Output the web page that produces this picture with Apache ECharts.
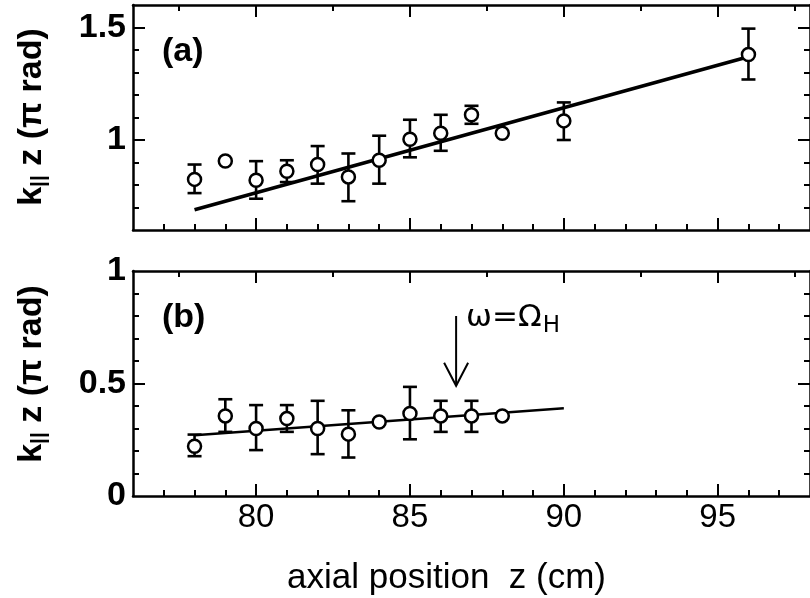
<!DOCTYPE html>
<html><head><meta charset="utf-8">
<script src="https://cdn.jsdelivr.net/npm/echarts@6/dist/echarts.min.js"></script>
<style>html,body{margin:0;padding:0;background:#fff}#c{width:810px;height:598px}</style>
</head><body><div id="c"></div>
<script>
// ---- Panel (a) data ----
const zA    = [78, 79, 80, 81, 82, 83, 84, 85, 86, 87, 88, 90, 96];
const kA    = [0.825, 0.907, 0.821, 0.861, 0.891, 0.836, 0.910, 1.003, 1.030, 1.112, 1.030, 1.085, 1.380];
const kAlo  = [0.764, null, 0.739, 0.813, 0.806, 0.728, 0.806, 0.923, 0.952, 1.072, null, 1.000, 1.269];
const kAhi  = [0.891, null, 0.906, 0.910, 0.973, 0.940, 1.019, 1.090, 1.112, 1.152, null, 1.167, 1.495];
const fitAz = [78, 96];
const fitAk = [0.69, 1.37];
// ---- Panel (b) data ----
const zB    = [78, 79, 80, 81, 82, 83, 84, 85, 86, 87, 88];
const kB    = [0.221, 0.356, 0.300, 0.344, 0.300, 0.275, 0.329, 0.367, 0.356, 0.356, 0.356];
const kBlo  = [0.177, 0.285, 0.204, 0.285, 0.186, 0.171, null, 0.252, 0.285, 0.285, null];
const kBhi  = [0.273, 0.430, 0.404, 0.404, 0.423, 0.381, null, 0.485, 0.423, 0.423, null];
const fitBz = [78, 90];
const fitBk = [0.27, 0.39];
// arrow marking omega = Omega_H
const arrowZ = [86.5];
const arrowFrom = [0.80];
const arrowTo = [0.49];
// ---- axes / ticks ----
const xRange = [76, 98];
const xTickLabels = [80, 85, 90, 95];
const xMinorBottom = [77, 78, 79, 81, 82, 83, 84, 86, 87, 88, 89, 91, 92, 93, 94, 96, 97];
const xMinorTop = [77.5, 82.5, 87.5, 92.5, 97.5];
const yRangeA = [0.6, 1.6];
const yLabelsA = [1, 1.5];
const yMinorA = [0.7, 0.8, 0.9, 1.1, 1.2, 1.3, 1.4];
const yRangeB = [0, 1];
const yLabelsB = [0, 0.5, 1];
const yMajorB = [0.5];
const yMinorB = [0.1, 0.2, 0.3, 0.4, 0.6, 0.7, 0.8, 0.9];

const chart = echarts.init(document.getElementById('c'), null, {renderer: 'canvas'});
const BLACK = '#000';
const FONT = 'Liberation Sans, Arial, Helvetica, sans-serif';

function axis(kind, grid, pos, range, ticks, len, opts) {
  opts = opts || {};
  return {
    type: 'value', gridIndex: grid, position: pos, min: range[0], max: range[1],
    axisLine: {show: !!opts.line, onZero: false, lineStyle: {color: BLACK, width: 2.5}},
    axisTick: {show: ticks.length > 0, inside: true, length: len, customValues: ticks,
               lineStyle: {color: BLACK, width: 2}},
    axisLabel: opts.labels ? {
      show: true, customValues: opts.labels, color: BLACK, fontFamily: FONT,
      fontSize: opts.fontSize, fontWeight: opts.fontWeight || 'normal', margin: opts.margin,
      formatter: v => String(Math.round(v * 10) / 10)
    } : {show: false},
    splitLine: {show: false}
  };
}

const gridA = {left: 133, top: 5, width: 679, height: 225};
const gridB = {left: 133, top: 271, width: 679, height: 225};

const xAxes = [
  axis('x', 0, 'bottom', xRange, xTickLabels, 12, {line: true}),
  axis('x', 0, 'top', xRange, xTickLabels, 12, {line: true}),
  axis('x', 1, 'bottom', xRange, xMinorBottom, 6),
  axis('x', 1, 'top', xRange, xMinorTop, 6),
  axis('x', 2, 'bottom', xRange, xTickLabels, 12, {line: true, labels: xTickLabels, fontSize: 33, margin: 5}),
  axis('x', 2, 'top', xRange, xTickLabels, 12, {line: true}),
  axis('x', 3, 'bottom', xRange, xMinorBottom, 6),
  axis('x', 3, 'top', xRange, xMinorTop, 6)
];
const yAxes = [
  axis('y', 0, 'left', yRangeA, yLabelsA, 12, {line: true, labels: yLabelsA, fontSize: 34, fontWeight: 'bold', margin: 7}),
  axis('y', 0, 'right', yRangeA, yLabelsA, 12, {line: true}),
  axis('y', 1, 'left', yRangeA, yMinorA, 6),
  axis('y', 1, 'right', yRangeA, yMinorA, 6),
  axis('y', 2, 'left', yRangeB, yMajorB, 12, {line: true, labels: yLabelsB, fontSize: 34, fontWeight: 'bold', margin: 7}),
  axis('y', 2, 'right', yRangeB, yMajorB, 12, {line: true}),
  axis('y', 3, 'left', yRangeB, yMinorB, 6),
  axis('y', 3, 'right', yRangeB, yMinorB, 6)
];

function errData(z, lo, hi) {
  const out = [];
  z.forEach((v, i) => { if (lo[i] != null && hi[i] != null) out.push([v, lo[i], hi[i]]); });
  return out;
}
function errSeries(xi, yi, data) {
  return {
    type: 'custom', xAxisIndex: xi, yAxisIndex: yi, z: 3, silent: true,
    encode: {x: 0, y: [1, 2]}, data: data,
    renderItem: function (params, api) {
      const x = api.value(0);
      const p1 = api.coord([x, api.value(1)]);
      const p2 = api.coord([x, api.value(2)]);
      const cw = 7;
      const st = {stroke: BLACK, lineWidth: 2.6};
      return {type: 'group', children: [
        {type: 'line', shape: {x1: p1[0], y1: p1[1], x2: p2[0], y2: p2[1]}, style: st},
        {type: 'line', shape: {x1: p1[0] - cw, y1: p1[1], x2: p1[0] + cw, y2: p1[1]}, style: st},
        {type: 'line', shape: {x1: p2[0] - cw, y1: p2[1], x2: p2[0] + cw, y2: p2[1]}, style: st}
      ]};
    }
  };
}
function pts(z, k) { return z.map((v, i) => [v, k[i]]); }
function scatterSeries(xi, yi, data) {
  return {type: 'scatter', xAxisIndex: xi, yAxisIndex: yi, z: 5, silent: true,
    symbol: 'circle', symbolSize: 13, data: data,
    itemStyle: {color: '#fff', borderColor: BLACK, borderWidth: 2.5, opacity: 1}};
}
function fitSeries(xi, yi, data, w) {
  return {type: 'line', xAxisIndex: xi, yAxisIndex: yi, z: 2, silent: true,
    showSymbol: false, symbol: 'none', data: data, lineStyle: {color: BLACK, width: w}};
}

const arrowSeries = {
  type: 'custom', xAxisIndex: 4, yAxisIndex: 4, z: 4, silent: true,
  encode: {x: 0, y: [1, 2]},
  data: arrowZ.map((v, i) => [v, arrowFrom[i], arrowTo[i]]),
  renderItem: function (params, api) {
    const x = api.value(0);
    const a = api.coord([x, api.value(1)]);
    const b = api.coord([x, api.value(2)]);
    const st = {stroke: BLACK, lineWidth: 2, fill: null};
    return {type: 'group', children: [
      {type: 'line', shape: {x1: a[0], y1: a[1], x2: b[0], y2: b[1]}, style: st},
      {type: 'polyline', shape: {points: [[b[0] - 12, b[1] - 23], [b[0], b[1]], [b[0] + 12, b[1] - 23]]}, style: st},
      {type: 'text', x: a[0] + 10, y: a[1] + 2, style: {
        text: '{a|ω=Ω}{s|H}', verticalAlign: 'middle', align: 'left',
        rich: {
          a: {fontSize: 31, fontFamily: 'DejaVu Sans', fill: BLACK, color: BLACK},
          s: {fontSize: 23, fontFamily: 'DejaVu Sans', fill: BLACK, color: BLACK, padding: [16, 0, 0, 1]}
        }
      }}
    ]};
  }
};

const yTitleRich = {
  m: {fontSize: 34, fontWeight: 'bold', fontFamily: FONT, color: BLACK, fill: BLACK},
  s: {fontSize: 21, fontWeight: 'bold', fontFamily: FONT, color: BLACK, fill: BLACK, padding: [14, 0, 0, 0]}
};
function yTitle(cy) {
  return {type: 'text', x: 32, y: cy, rotation: Math.PI / 2, style: {
    text: '{m|k}{s|||}{m| z (π rad)}', rich: yTitleRich, align: 'center', verticalAlign: 'middle'}};
}

chart.setOption({
  animation: false,
  backgroundColor: '#fff',
  grid: [gridA, gridA, gridB, gridB],
  xAxis: xAxes,
  yAxis: yAxes,
  series: [
    fitSeries(0, 0, pts(fitAz, fitAk), 3.5),
    errSeries(0, 0, errData(zA, kAlo, kAhi)),
    scatterSeries(0, 0, pts(zA, kA)),
    fitSeries(4, 4, pts(fitBz, fitBk), 2.5),
    errSeries(4, 4, errData(zB, kBlo, kBhi)),
    scatterSeries(4, 4, pts(zB, kB)),
    arrowSeries
  ],
  graphic: [
    yTitle(117),
    yTitle(374),
    {type: 'text', x: 162, y: 52, style: {text: '(a)', font: 'bold 34px ' + FONT, fill: BLACK, verticalAlign: 'middle'}},
    {type: 'text', x: 162, y: 318, style: {text: '(b)', font: 'bold 34px ' + FONT, fill: BLACK, verticalAlign: 'middle'}},
    {type: 'text', x: 287, y: 578, style: {text: 'axial position  z (cm)', font: '35px ' + FONT, fill: BLACK, verticalAlign: 'middle'}}
  ]
});
</script>
</body></html>
